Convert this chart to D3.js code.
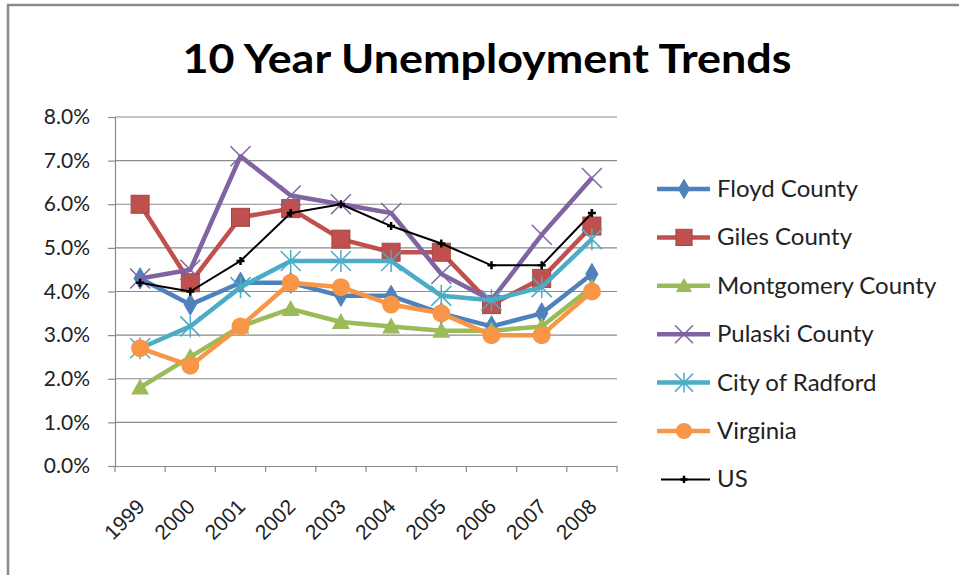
<!DOCTYPE html>
<html>
<head>
<meta charset="utf-8">
<script src="https://cdn.jsdelivr.net/npm/d3@7"></script>
<style>
  html, body { margin: 0; padding: 0; background: #fff; }
  svg { display: block; font-family: Lato, "Open Sans", sans-serif; }
</style>
</head>
<body>
<svg id="chart" width="959" height="575"></svg>
<script>
// Unemployment rates (%) by year
const years = ["1999","2000","2001","2002","2003","2004","2005","2006","2007","2008"];
const floyd      = [4.3, 3.7, 4.2, 4.2, 3.9, 3.9, 3.5, 3.2, 3.5, 4.4];
const giles      = [6.0, 4.2, 5.7, 5.9, 5.2, 4.9, 4.9, 3.7, 4.3, 5.5];
const montgomery = [1.8, 2.5, 3.2, 3.6, 3.3, 3.2, 3.1, 3.1, 3.2, 4.1];
const pulaski    = [4.3, 4.5, 7.1, 6.2, 6.0, 5.8, 4.4, 3.8, 5.3, 6.6];
const radford    = [2.7, 3.2, 4.1, 4.7, 4.7, 4.7, 3.9, 3.8, 4.1, 5.2];
const virginia   = [2.7, 2.3, 3.2, 4.2, 4.1, 3.7, 3.5, 3.0, 3.0, 4.0];
const us         = [4.2, 4.0, 4.7, 5.8, 6.0, 5.5, 5.1, 4.6, 4.6, 5.8];
const yTicks = [0, 1, 2, 3, 4, 5, 6, 7, 8];
const titleText = "10 Year Unemployment Trends";

const series = [
  { name: "Floyd County",      values: floyd,      color: "#4F81BD", marker: "diamond",  width: 4.5 },
  { name: "Giles County",      values: giles,      color: "#C0504D", marker: "square",   width: 4.5 },
  { name: "Montgomery County", values: montgomery, color: "#9BBB59", marker: "triangle", width: 4.5 },
  { name: "Pulaski County",    values: pulaski,    color: "#8064A2", marker: "x",        width: 4.5 },
  { name: "City of Radford",   values: radford,    color: "#4BACC6", marker: "star",     width: 4.5 },
  { name: "Virginia",          values: virginia,   color: "#F79646", marker: "circle",   width: 4.5 },
  { name: "US",                values: us,         color: "#000000", marker: "plus",     width: 2 }
];

const svg = d3.select("#chart");
const plot = { left: 115, right: 617, top: 117, bottom: 466 };

// outer frame
svg.append("rect").attr("x", 8).attr("y", 5).attr("width", 980).attr("height", 600)
  .attr("fill", "#fff").attr("stroke", "#8c8c8c").attr("stroke-width", 2.5);

svg.append("text").attr("x", 487).attr("y", 73).attr("text-anchor", "middle")
  .attr("font-size", 40).attr("font-weight", "bold").attr("fill", "#000")
  .attr("textLength", 609).attr("lengthAdjust", "spacingAndGlyphs")
  .text(titleText);

const x = d3.scaleBand().domain(years).range([plot.left, plot.right]);
const y = d3.scaleLinear().domain([0, 8]).range([plot.bottom, plot.top]);
const cx = d => x(d) + x.bandwidth() / 2;

// horizontal gridlines
svg.append("g").selectAll("line").data(yTicks.slice(1)).join("line")
  .attr("x1", plot.left).attr("x2", plot.right)
  .attr("y1", d => y(d)).attr("y2", d => y(d))
  .attr("stroke", "#8a8a8a").attr("stroke-width", 1.2);

// y axis
const yAxis = svg.append("g").attr("transform", `translate(${plot.left},0)`)
  .call(d3.axisLeft(y).tickValues(yTicks).tickFormat(d => d.toFixed(1) + "%").tickSize(7).tickPadding(18));
yAxis.select(".domain").attr("stroke", "#8a8a8a").attr("stroke-width", 1.2);
yAxis.selectAll(".tick line").attr("stroke", "#8a8a8a").attr("stroke-width", 1.2);
yAxis.selectAll("text").attr("font-size", 21).attr("fill", "#222").attr("font-family", "Lato, sans-serif");

// x axis: ticks at band boundaries
const xAxis = svg.append("g").attr("transform", `translate(0,${plot.bottom})`)
  .call(d3.axisBottom(x).tickSize(0).tickFormat(""));
xAxis.select(".domain").attr("stroke", "#8a8a8a").attr("stroke-width", 1.2);
xAxis.selectAll(".tick").remove();
const bounds = years.map(d => x(d)).concat([plot.right]);
xAxis.selectAll("line.bt").data(bounds).join("line").attr("class", "bt")
  .attr("x1", d => d).attr("x2", d => d).attr("y1", 0).attr("y2", 6)
  .attr("stroke", "#8a8a8a").attr("stroke-width", 1.2);
xAxis.selectAll("text.yl").data(years).join("text").attr("class", "yl")
  .attr("transform", d => `translate(${cx(d) + 6},${42}) rotate(-45)`)
  .attr("text-anchor", "end").attr("font-size", 21).attr("fill", "#222")
  .text(d => d);

// marker drawing
function drawMarker(g, type, color, s) {
  s = s || 1;
  switch (type) {
    case "diamond":
      g.append("path").attr("d", d3.symbol(d3.symbolDiamond, 130 * s * s)())
        .attr("fill", color).attr("stroke", color); break;
    case "square":
      g.append("rect").attr("x", -9 * s).attr("y", -9 * s).attr("width", 18 * s).attr("height", 18 * s)
        .attr("fill", color).attr("stroke", d3.color(color).darker(0.4)).attr("stroke-width", 1); break;
    case "triangle":
      g.append("path").attr("d", `M0,${-9 * s}L${9 * s},${7 * s}L${-9 * s},${7 * s}Z`)
        .attr("fill", color); break;
    case "circle":
      g.append("circle").attr("r", 9 * s).attr("fill", color); break;
    case "x":
      g.append("path").attr("d", `M${-10 * s},${-10 * s}L${10 * s},${10 * s}M${10 * s},${-10 * s}L${-10 * s},${10 * s}`)
        .attr("stroke", color).attr("stroke-width", 1.5).attr("fill", "none"); break;
    case "star":
      g.append("path").attr("d", `M${-10 * s},${-10 * s}L${10 * s},${10 * s}M${10 * s},${-10 * s}L${-10 * s},${10 * s}M0,${-11 * s}L0,${11 * s}`)
        .attr("stroke", color).attr("stroke-width", 1.5).attr("fill", "none"); break;
    case "plus":
      g.append("path").attr("d", `M${-4 * s},0L${4 * s},0M0,${-4 * s}L0,${4 * s}`)
        .attr("stroke", color).attr("stroke-width", 2.5).attr("fill", "none"); break;
  }
}

const line = d3.line().x((v, i) => cx(years[i])).y(v => y(v));

series.forEach(s => {
  const g = svg.append("g");
  g.append("path").attr("d", line(s.values)).attr("fill", "none")
    .attr("stroke", s.color).attr("stroke-width", s.width).attr("stroke-linejoin", "round");
  s.values.forEach((v, i) => {
    const m = g.append("g").attr("transform", `translate(${cx(years[i])},${y(v)})`);
    drawMarker(m, s.marker, s.color, 1);
  });
});

// legend
const legend = svg.append("g");
series.forEach((s, i) => {
  const ly = 189 + i * 48.4;
  const g = legend.append("g").attr("transform", `translate(0,${ly})`);
  g.append("line").attr("x1", s.name === "US" ? 661 : 657).attr("x2", 710).attr("y1", 0).attr("y2", 0)
    .attr("stroke", s.color).attr("stroke-width", s.width);
  const m = g.append("g").attr("transform", "translate(684,0)");
  drawMarker(m, s.marker, s.color, 0.9);
  g.append("text").attr("x", 717).attr("y", 8).attr("font-size", 24).attr("fill", "#222").text(s.name);
});
</script>
</body>
</html>
